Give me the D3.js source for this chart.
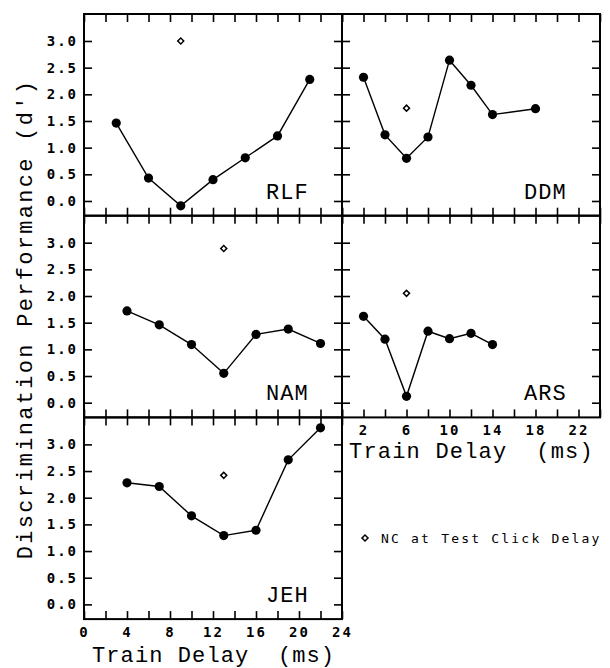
<!doctype html>
<html lang="en">
  <head>
    <meta charset="UTF-8" />
    <title>Discrimination Performance vs Train Delay</title>
    <script src="https://d3js.org/d3.v7.min.js"></script>
    <style>
      body {
        margin: 0;
        background: #fff;
      }
      .tick-label {
        font-family: 'DejaVu Sans Mono', monospace;
        font-size: 14px;
        font-weight: bold;
        letter-spacing: 2px;
      }
      .title {
        font-family: 'Liberation Mono', monospace;
        font-size: 22px;
        white-space: pre;
      }
    </style>
  </head>
  <body>
    <div id="chart"></div>
    <script>
      // d' values, one set per listener
      const subjects = ['RLF', 'DDM', 'NAM', 'ARS', 'JEH'];
      const rlfDelay = [3, 6, 9, 12, 15, 18, 21];
      const rlfDprime = [1.46, 0.43, -0.09, 0.4, 0.81, 1.22, 2.28];
      const ddmDelay = [2, 4, 6, 8, 10, 12, 14, 18];
      const ddmDprime = [2.32, 1.24, 0.8, 1.2, 2.64, 2.17, 1.62, 1.73];
      const namDelay = [4, 7, 10, 13, 16, 19, 22];
      const namDprime = [1.72, 1.46, 1.09, 0.55, 1.28, 1.38, 1.11];
      const arsDelay = [2, 4, 6, 8, 10, 12, 14];
      const arsDprime = [1.62, 1.19, 0.12, 1.34, 1.2, 1.3, 1.09];
      const jehDelay = [4, 7, 10, 13, 16, 19, 22];
      const jehDprime = [2.28, 2.21, 1.66, 1.29, 1.39, 2.71, 3.31];
      // NC at test click delay (open diamonds)
      const ncDelay = [9, 6, 13, 6, 13];
      const ncDprime = [3.0, 1.74, 2.89, 2.05, 2.42];

      const yTicks = [0, 0.5, 1, 1.5, 2, 2.5, 3];
      const xTicks = d3.range(0, 25, 2);

      const delays = [rlfDelay, ddmDelay, namDelay, arsDelay, jehDelay];
      const dprimes = [rlfDprime, ddmDprime, namDprime, arsDprime, jehDprime];
      // grid position of each panel: [column, row]
      const cells = [[0, 0], [1, 0], [0, 1], [1, 1], [0, 2]];

      const width = 610;
      const height = 668;
      const originX = 84;
      const originY = 14;
      const panelW = 258;
      const panelH = 201.7;
      const tickLen = 8;

      const svg = d3
        .select('#chart')
        .append('svg')
        .attr('width', width)
        .attr('height', height);

      const x = d3.scaleLinear().domain([0, 24]).range([0, panelW]);
      const y = d3.scaleLinear().domain([-0.276, 3.506]).range([panelH, 0]);

      const line = d3
        .line()
        .x((d) => x(d[0]))
        .y((d) => y(d[1]));

      const diamond = d3.symbol(d3.symbolSquare, 18);

      function styleAxis(g, labelled) {
        g.select('.domain').remove();
        g.selectAll('line').attr('stroke', '#000').attr('stroke-width', 1.6);
        g.selectAll('text')
          .attr('class', 'tick-label')
          .attr('fill', '#000');
        g.attr('font-size', null).attr('font-family', null);
        if (!labelled) g.selectAll('text').remove();
      }

      subjects.forEach((name, i) => {
        const col = cells[i][0];
        const row = cells[i][1];
        const g = svg
          .append('g')
          .attr(
            'transform',
            'translate(' + (originX + col * panelW) + ',' + (originY + row * panelH) + ')',
          );

        // inward ticks on all four sides
        const showY = col === 0;
        g.append('g')
          .call(
            d3.axisLeft(y).tickValues(yTicks).tickSize(-tickLen).tickPadding(6)
              .tickFormat(d3.format('.1f')),
          )
          .call((a) => styleAxis(a, showY));
        g.append('g')
          .attr('transform', 'translate(' + panelW + ',0)')
          .call(d3.axisRight(y).tickValues(yTicks).tickSize(-tickLen))
          .call((a) => styleAxis(a, false));
        g.append('g')
          .call(d3.axisTop(x).tickValues(xTicks).tickSize(-tickLen))
          .call((a) => styleAxis(a, false));

        // bottom axis: labels only under the lowest panel of each column
        const showX = name === 'JEH' || name === 'ARS';
        const fmt =
          name === 'JEH'
            ? (d) => (d % 4 === 0 ? d : '')
            : (d) => (d >= 2 && d <= 22 && (d - 2) % 4 === 0 ? d : '');
        g.append('g')
          .attr('transform', 'translate(0,' + panelH + ')')
          .call(
            d3.axisBottom(x).tickValues(xTicks).tickSize(-tickLen).tickPadding(8)
              .tickFormat(fmt),
          )
          .call((a) => styleAxis(a, showX));

        // frame
        g.append('rect')
          .attr('width', panelW)
          .attr('height', panelH)
          .attr('fill', 'none')
          .attr('stroke', '#000')
          .attr('stroke-width', 2);

        const pts = delays[i].map((d, k) => [d, dprimes[i][k]]);
        g.append('path')
          .datum(pts)
          .attr('d', line)
          .attr('fill', 'none')
          .attr('stroke', '#000')
          .attr('stroke-width', 1.4);
        g.selectAll('.pt')
          .data(pts)
          .enter()
          .append('circle')
          .attr('class', 'pt')
          .attr('cx', (d) => x(d[0]))
          .attr('cy', (d) => y(d[1]))
          .attr('r', 4.6)
          .attr('fill', '#000');

        g.append('path')
          .attr('d', diamond())
          .attr(
            'transform',
            'translate(' + x(ncDelay[i]) + ',' + y(ncDprime[i]) + ') rotate(45)',
          )
          .attr('fill', '#fff')
          .attr('stroke', '#000')
          .attr('stroke-width', 1.5);

        g.append('text')
          .attr('class', 'title')
          .attr('x', 182)
          .attr('y', panelH - 17)
          .style('letter-spacing', '1.1px')
          .text(name);
      });

      // axis titles
      svg
        .append('text')
        .attr('class', 'title')
        .attr('text-anchor', 'middle')
        .attr('transform', 'translate(32,319) rotate(-90)')
        .style('letter-spacing', '2.3px')
        .text("Discrimination Performance (d')");

      svg
        .append('text')
        .attr('class', 'title')
        .attr('x', 92)
        .attr('y', 662)
        .style('letter-spacing', '1.1px')
        .text('Train Delay  (ms)');

      svg
        .append('text')
        .attr('class', 'title')
        .attr('x', 349)
        .attr('y', 458)
        .style('letter-spacing', '1.2px')
        .text('Train Delay  (ms)');

      // legend
      svg
        .append('path')
        .attr('d', diamond())
        .attr('transform', 'translate(365,538) rotate(45)')
        .attr('fill', '#fff')
        .attr('stroke', '#000')
        .attr('stroke-width', 1.5);
      svg
        .append('text')
        .attr('class', 'tick-label')
        .attr('x', 381)
        .attr('y', 543)
        .style('font-weight', 'normal')
        .style('font-size', '13px')
        .style('letter-spacing', '2.2px')
        .text('NC at Test Click Delay');
    </script>
  </body>
</html>
